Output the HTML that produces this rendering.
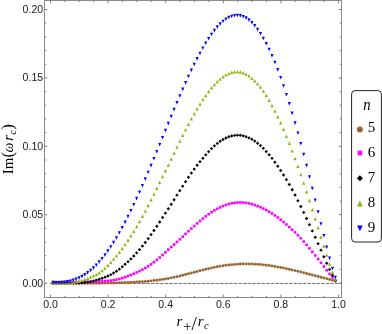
<!DOCTYPE html>
<html><head><meta charset="utf-8"><title>plot</title>
<style>
html,body{margin:0;padding:0;background:#fff;}
svg{display:block;will-change:transform;}
.t{font-family:"Liberation Sans",sans-serif;font-size:10px;fill:#1a1a1a;}
.s{font-family:"Liberation Serif",serif;font-size:15px;fill:#000;}
.i{font-style:italic;}
</style></head><body>
<svg width="382" height="334" viewBox="0 0 382 334">
<rect width="382" height="334" fill="#fff"/>
<rect x="44.5" y="0.5" width="297.0" height="297.0" stroke="#8a8a8a" stroke-width="1" fill="none"/>
<path d="M50.50 297.5v-2.8M50.50 0.5v2.8M64.90 297.5v-1.6M64.90 0.5v1.6M79.30 297.5v-1.6M79.30 0.5v1.6M93.70 297.5v-1.6M93.70 0.5v1.6M108.10 297.5v-2.8M108.10 0.5v2.8M122.50 297.5v-1.6M122.50 0.5v1.6M136.90 297.5v-1.6M136.90 0.5v1.6M151.30 297.5v-1.6M151.30 0.5v1.6M165.70 297.5v-2.8M165.70 0.5v2.8M180.10 297.5v-1.6M180.10 0.5v1.6M194.50 297.5v-1.6M194.50 0.5v1.6M208.90 297.5v-1.6M208.90 0.5v1.6M223.30 297.5v-2.8M223.30 0.5v2.8M237.70 297.5v-1.6M237.70 0.5v1.6M252.10 297.5v-1.6M252.10 0.5v1.6M266.50 297.5v-1.6M266.50 0.5v1.6M280.90 297.5v-2.8M280.90 0.5v2.8M295.30 297.5v-1.6M295.30 0.5v1.6M309.70 297.5v-1.6M309.70 0.5v1.6M324.10 297.5v-1.6M324.10 0.5v1.6M338.50 297.5v-2.8M338.50 0.5v2.8M44.5 283.10h2.8M341.5 283.10h-2.8M44.5 269.42h1.6M341.5 269.42h-1.6M44.5 255.74h1.6M341.5 255.74h-1.6M44.5 242.06h1.6M341.5 242.06h-1.6M44.5 228.38h1.6M341.5 228.38h-1.6M44.5 214.70h2.8M341.5 214.70h-2.8M44.5 201.02h1.6M341.5 201.02h-1.6M44.5 187.34h1.6M341.5 187.34h-1.6M44.5 173.66h1.6M341.5 173.66h-1.6M44.5 159.98h1.6M341.5 159.98h-1.6M44.5 146.30h2.8M341.5 146.30h-2.8M44.5 132.62h1.6M341.5 132.62h-1.6M44.5 118.94h1.6M341.5 118.94h-1.6M44.5 105.26h1.6M341.5 105.26h-1.6M44.5 91.58h1.6M341.5 91.58h-1.6M44.5 77.90h2.8M341.5 77.90h-2.8M44.5 64.22h1.6M341.5 64.22h-1.6M44.5 50.54h1.6M341.5 50.54h-1.6M44.5 36.86h1.6M341.5 36.86h-1.6M44.5 23.18h1.6M341.5 23.18h-1.6M44.5 9.50h2.8M341.5 9.50h-2.8" stroke="#707070" stroke-width="0.9" fill="none"/>
<path d="M49.9 283.45H341.5" stroke="#707070" stroke-width="1" stroke-dasharray="3.4 1.2" fill="none"/>
<text class="t" x="43.15" y="307.9" textLength="14.7" lengthAdjust="spacingAndGlyphs">0.0</text>
<text class="t" x="100.75" y="307.9" textLength="14.7" lengthAdjust="spacingAndGlyphs">0.2</text>
<text class="t" x="158.35" y="307.9" textLength="14.7" lengthAdjust="spacingAndGlyphs">0.4</text>
<text class="t" x="215.95" y="307.9" textLength="14.7" lengthAdjust="spacingAndGlyphs">0.6</text>
<text class="t" x="273.55" y="307.9" textLength="14.7" lengthAdjust="spacingAndGlyphs">0.8</text>
<text class="t" x="331.15" y="307.9" textLength="14.7" lengthAdjust="spacingAndGlyphs">1.0</text>
<text class="t" x="22.6" y="286.60" textLength="20.5" lengthAdjust="spacingAndGlyphs">0.00</text>
<text class="t" x="22.6" y="218.20" textLength="20.5" lengthAdjust="spacingAndGlyphs">0.05</text>
<text class="t" x="22.6" y="149.80" textLength="20.5" lengthAdjust="spacingAndGlyphs">0.10</text>
<text class="t" x="22.6" y="81.40" textLength="20.5" lengthAdjust="spacingAndGlyphs">0.15</text>
<text class="t" x="22.6" y="13.00" textLength="20.5" lengthAdjust="spacingAndGlyphs">0.20</text>
<g fill="#996633">
<circle cx="53.13" cy="283.21" r="1.48"/>
<circle cx="56.01" cy="283.19" r="1.48"/>
<circle cx="58.89" cy="283.18" r="1.48"/>
<circle cx="61.77" cy="283.18" r="1.48"/>
<circle cx="64.65" cy="283.18" r="1.48"/>
<circle cx="67.53" cy="283.18" r="1.48"/>
<circle cx="70.41" cy="283.18" r="1.48"/>
<circle cx="73.29" cy="283.18" r="1.48"/>
<circle cx="76.17" cy="283.19" r="1.48"/>
<circle cx="79.05" cy="283.19" r="1.48"/>
<circle cx="81.93" cy="283.20" r="1.48"/>
<circle cx="84.81" cy="283.20" r="1.48"/>
<circle cx="87.69" cy="283.20" r="1.48"/>
<circle cx="90.57" cy="283.19" r="1.48"/>
<circle cx="93.45" cy="283.19" r="1.48"/>
<circle cx="96.33" cy="283.17" r="1.48"/>
<circle cx="99.21" cy="283.15" r="1.48"/>
<circle cx="102.09" cy="283.13" r="1.48"/>
<circle cx="104.97" cy="283.09" r="1.48"/>
<circle cx="107.85" cy="283.05" r="1.48"/>
<circle cx="110.73" cy="283.00" r="1.48"/>
<circle cx="113.61" cy="282.94" r="1.48"/>
<circle cx="116.49" cy="282.87" r="1.48"/>
<circle cx="119.37" cy="282.79" r="1.48"/>
<circle cx="122.25" cy="282.70" r="1.48"/>
<circle cx="125.13" cy="282.59" r="1.48"/>
<circle cx="128.01" cy="282.47" r="1.48"/>
<circle cx="130.89" cy="282.34" r="1.48"/>
<circle cx="133.77" cy="282.19" r="1.48"/>
<circle cx="136.65" cy="282.03" r="1.48"/>
<circle cx="139.53" cy="281.84" r="1.48"/>
<circle cx="142.41" cy="281.64" r="1.48"/>
<circle cx="145.29" cy="281.40" r="1.48"/>
<circle cx="148.17" cy="281.15" r="1.48"/>
<circle cx="151.05" cy="280.86" r="1.48"/>
<circle cx="153.93" cy="280.55" r="1.48"/>
<circle cx="156.81" cy="280.20" r="1.48"/>
<circle cx="159.69" cy="279.81" r="1.48"/>
<circle cx="162.57" cy="279.39" r="1.48"/>
<circle cx="165.45" cy="278.93" r="1.48"/>
<circle cx="168.33" cy="278.42" r="1.48"/>
<circle cx="171.21" cy="277.87" r="1.48"/>
<circle cx="174.09" cy="277.28" r="1.48"/>
<circle cx="176.97" cy="276.65" r="1.48"/>
<circle cx="179.85" cy="275.98" r="1.48"/>
<circle cx="182.73" cy="275.28" r="1.48"/>
<circle cx="185.61" cy="274.56" r="1.48"/>
<circle cx="188.49" cy="273.82" r="1.48"/>
<circle cx="191.37" cy="273.07" r="1.48"/>
<circle cx="194.25" cy="272.31" r="1.48"/>
<circle cx="197.13" cy="271.56" r="1.48"/>
<circle cx="200.01" cy="270.81" r="1.48"/>
<circle cx="202.89" cy="270.07" r="1.48"/>
<circle cx="205.77" cy="269.35" r="1.48"/>
<circle cx="208.65" cy="268.66" r="1.48"/>
<circle cx="211.53" cy="267.99" r="1.48"/>
<circle cx="214.41" cy="267.36" r="1.48"/>
<circle cx="217.29" cy="266.78" r="1.48"/>
<circle cx="220.17" cy="266.24" r="1.48"/>
<circle cx="223.05" cy="265.75" r="1.48"/>
<circle cx="225.93" cy="265.32" r="1.48"/>
<circle cx="228.81" cy="264.95" r="1.48"/>
<circle cx="231.69" cy="264.64" r="1.48"/>
<circle cx="234.57" cy="264.38" r="1.48"/>
<circle cx="237.45" cy="264.18" r="1.48"/>
<circle cx="240.33" cy="264.04" r="1.48"/>
<circle cx="243.21" cy="263.95" r="1.48"/>
<circle cx="246.09" cy="263.92" r="1.48"/>
<circle cx="248.97" cy="263.95" r="1.48"/>
<circle cx="251.85" cy="264.03" r="1.48"/>
<circle cx="254.73" cy="264.16" r="1.48"/>
<circle cx="257.61" cy="264.35" r="1.48"/>
<circle cx="260.49" cy="264.59" r="1.48"/>
<circle cx="263.37" cy="264.87" r="1.48"/>
<circle cx="266.25" cy="265.21" r="1.48"/>
<circle cx="269.13" cy="265.59" r="1.48"/>
<circle cx="272.01" cy="266.01" r="1.48"/>
<circle cx="274.89" cy="266.47" r="1.48"/>
<circle cx="277.77" cy="266.97" r="1.48"/>
<circle cx="280.65" cy="267.51" r="1.48"/>
<circle cx="283.53" cy="268.08" r="1.48"/>
<circle cx="286.41" cy="268.67" r="1.48"/>
<circle cx="289.29" cy="269.30" r="1.48"/>
<circle cx="292.17" cy="269.95" r="1.48"/>
<circle cx="295.05" cy="270.62" r="1.48"/>
<circle cx="297.93" cy="271.32" r="1.48"/>
<circle cx="300.81" cy="272.03" r="1.48"/>
<circle cx="303.69" cy="272.75" r="1.48"/>
<circle cx="306.57" cy="273.49" r="1.48"/>
<circle cx="309.45" cy="274.25" r="1.48"/>
<circle cx="312.33" cy="275.00" r="1.48"/>
<circle cx="315.21" cy="275.77" r="1.48"/>
<circle cx="318.09" cy="276.54" r="1.48"/>
<circle cx="320.97" cy="277.30" r="1.48"/>
<circle cx="323.85" cy="278.07" r="1.48"/>
<circle cx="326.73" cy="278.83" r="1.48"/>
<circle cx="329.61" cy="279.59" r="1.48"/>
<circle cx="332.49" cy="280.33" r="1.48"/>
<circle cx="335.37" cy="281.07" r="1.48"/>
</g>
<g fill="#ff00ff">
<rect x="51.83" y="280.78" width="2.60" height="2.60"/>
<rect x="54.71" y="280.81" width="2.60" height="2.60"/>
<rect x="57.59" y="280.83" width="2.60" height="2.60"/>
<rect x="60.47" y="280.84" width="2.60" height="2.60"/>
<rect x="63.35" y="280.85" width="2.60" height="2.60"/>
<rect x="66.23" y="280.85" width="2.60" height="2.60"/>
<rect x="69.11" y="280.84" width="2.60" height="2.60"/>
<rect x="71.99" y="280.83" width="2.60" height="2.60"/>
<rect x="74.87" y="280.80" width="2.60" height="2.60"/>
<rect x="77.75" y="280.77" width="2.60" height="2.60"/>
<rect x="80.63" y="280.72" width="2.60" height="2.60"/>
<rect x="83.51" y="280.66" width="2.60" height="2.60"/>
<rect x="86.39" y="280.59" width="2.60" height="2.60"/>
<rect x="89.27" y="280.50" width="2.60" height="2.60"/>
<rect x="92.15" y="280.40" width="2.60" height="2.60"/>
<rect x="95.03" y="280.28" width="2.60" height="2.60"/>
<rect x="97.91" y="280.15" width="2.60" height="2.60"/>
<rect x="100.79" y="280.00" width="2.60" height="2.60"/>
<rect x="103.67" y="279.82" width="2.60" height="2.60"/>
<rect x="106.55" y="279.60" width="2.60" height="2.60"/>
<rect x="109.43" y="279.31" width="2.60" height="2.60"/>
<rect x="112.31" y="278.90" width="2.60" height="2.60"/>
<rect x="115.19" y="278.36" width="2.60" height="2.60"/>
<rect x="118.07" y="277.67" width="2.60" height="2.60"/>
<rect x="120.95" y="276.82" width="2.60" height="2.60"/>
<rect x="123.83" y="275.86" width="2.60" height="2.60"/>
<rect x="126.71" y="274.79" width="2.60" height="2.60"/>
<rect x="129.59" y="273.63" width="2.60" height="2.60"/>
<rect x="132.47" y="272.41" width="2.60" height="2.60"/>
<rect x="135.35" y="271.13" width="2.60" height="2.60"/>
<rect x="138.23" y="269.78" width="2.60" height="2.60"/>
<rect x="141.11" y="268.33" width="2.60" height="2.60"/>
<rect x="143.99" y="266.73" width="2.60" height="2.60"/>
<rect x="146.87" y="264.98" width="2.60" height="2.60"/>
<rect x="149.75" y="263.03" width="2.60" height="2.60"/>
<rect x="152.63" y="260.90" width="2.60" height="2.60"/>
<rect x="155.51" y="258.62" width="2.60" height="2.60"/>
<rect x="158.39" y="256.20" width="2.60" height="2.60"/>
<rect x="161.27" y="253.66" width="2.60" height="2.60"/>
<rect x="164.15" y="251.03" width="2.60" height="2.60"/>
<rect x="167.03" y="248.34" width="2.60" height="2.60"/>
<rect x="169.91" y="245.74" width="2.60" height="2.60"/>
<rect x="172.79" y="243.29" width="2.60" height="2.60"/>
<rect x="175.67" y="240.73" width="2.60" height="2.60"/>
<rect x="178.55" y="238.05" width="2.60" height="2.60"/>
<rect x="181.43" y="235.35" width="2.60" height="2.60"/>
<rect x="184.31" y="232.64" width="2.60" height="2.60"/>
<rect x="187.19" y="229.95" width="2.60" height="2.60"/>
<rect x="190.07" y="227.29" width="2.60" height="2.60"/>
<rect x="192.95" y="224.68" width="2.60" height="2.60"/>
<rect x="195.83" y="222.13" width="2.60" height="2.60"/>
<rect x="198.71" y="219.66" width="2.60" height="2.60"/>
<rect x="201.59" y="217.29" width="2.60" height="2.60"/>
<rect x="204.47" y="215.04" width="2.60" height="2.60"/>
<rect x="207.35" y="212.91" width="2.60" height="2.60"/>
<rect x="210.23" y="210.94" width="2.60" height="2.60"/>
<rect x="213.11" y="209.13" width="2.60" height="2.60"/>
<rect x="215.99" y="207.48" width="2.60" height="2.60"/>
<rect x="218.87" y="206.02" width="2.60" height="2.60"/>
<rect x="221.75" y="204.74" width="2.60" height="2.60"/>
<rect x="224.63" y="203.64" width="2.60" height="2.60"/>
<rect x="227.51" y="202.74" width="2.60" height="2.60"/>
<rect x="230.39" y="202.04" width="2.60" height="2.60"/>
<rect x="233.27" y="201.54" width="2.60" height="2.60"/>
<rect x="236.15" y="201.24" width="2.60" height="2.60"/>
<rect x="239.03" y="201.16" width="2.60" height="2.60"/>
<rect x="241.91" y="201.28" width="2.60" height="2.60"/>
<rect x="244.79" y="201.61" width="2.60" height="2.60"/>
<rect x="247.67" y="202.13" width="2.60" height="2.60"/>
<rect x="250.55" y="202.85" width="2.60" height="2.60"/>
<rect x="253.43" y="203.73" width="2.60" height="2.60"/>
<rect x="256.31" y="204.78" width="2.60" height="2.60"/>
<rect x="259.19" y="205.97" width="2.60" height="2.60"/>
<rect x="262.07" y="207.29" width="2.60" height="2.60"/>
<rect x="264.95" y="208.76" width="2.60" height="2.60"/>
<rect x="267.83" y="210.37" width="2.60" height="2.60"/>
<rect x="270.71" y="212.14" width="2.60" height="2.60"/>
<rect x="273.59" y="214.06" width="2.60" height="2.60"/>
<rect x="276.47" y="216.15" width="2.60" height="2.60"/>
<rect x="279.35" y="218.38" width="2.60" height="2.60"/>
<rect x="282.23" y="220.74" width="2.60" height="2.60"/>
<rect x="285.11" y="223.21" width="2.60" height="2.60"/>
<rect x="287.99" y="225.76" width="2.60" height="2.60"/>
<rect x="290.87" y="228.37" width="2.60" height="2.60"/>
<rect x="293.75" y="231.05" width="2.60" height="2.60"/>
<rect x="296.63" y="233.88" width="2.60" height="2.60"/>
<rect x="299.51" y="236.95" width="2.60" height="2.60"/>
<rect x="302.39" y="240.23" width="2.60" height="2.60"/>
<rect x="305.27" y="243.63" width="2.60" height="2.60"/>
<rect x="308.15" y="247.08" width="2.60" height="2.60"/>
<rect x="311.03" y="250.58" width="2.60" height="2.60"/>
<rect x="313.91" y="254.14" width="2.60" height="2.60"/>
<rect x="316.79" y="257.76" width="2.60" height="2.60"/>
<rect x="319.67" y="261.45" width="2.60" height="2.60"/>
<rect x="322.55" y="265.22" width="2.60" height="2.60"/>
<rect x="325.43" y="268.99" width="2.60" height="2.60"/>
<rect x="328.31" y="272.66" width="2.60" height="2.60"/>
<rect x="331.19" y="276.15" width="2.60" height="2.60"/>
<rect x="334.07" y="279.35" width="2.60" height="2.60"/>
</g>
<g fill="#000000">
<path d="M53.13 281.32L54.83 283.02L53.13 284.72L51.43 283.02Z"/>
<path d="M56.01 281.21L57.71 282.91L56.01 284.61L54.31 282.91Z"/>
<path d="M58.89 281.18L60.59 282.88L58.89 284.58L57.19 282.88Z"/>
<path d="M61.77 281.20L63.47 282.90L61.77 284.60L60.07 282.90Z"/>
<path d="M64.65 281.25L66.35 282.95L64.65 284.65L62.95 282.95Z"/>
<path d="M67.53 281.31L69.23 283.01L67.53 284.71L65.83 283.01Z"/>
<path d="M70.41 281.37L72.11 283.07L70.41 284.77L68.71 283.07Z"/>
<path d="M73.29 281.40L74.99 283.10L73.29 284.80L71.59 283.10Z"/>
<path d="M76.17 281.38L77.87 283.08L76.17 284.78L74.47 283.08Z"/>
<path d="M79.05 281.30L80.75 283.00L79.05 284.70L77.35 283.00Z"/>
<path d="M81.93 281.13L83.63 282.83L81.93 284.53L80.23 282.83Z"/>
<path d="M84.81 280.85L86.51 282.55L84.81 284.25L83.11 282.55Z"/>
<path d="M87.69 280.45L89.39 282.15L87.69 283.85L85.99 282.15Z"/>
<path d="M90.57 279.91L92.27 281.61L90.57 283.31L88.87 281.61Z"/>
<path d="M93.45 279.21L95.15 280.91L93.45 282.61L91.75 280.91Z"/>
<path d="M96.33 278.39L98.03 280.09L96.33 281.79L94.63 280.09Z"/>
<path d="M99.21 277.48L100.91 279.18L99.21 280.88L97.51 279.18Z"/>
<path d="M102.09 276.52L103.79 278.22L102.09 279.92L100.39 278.22Z"/>
<path d="M104.97 275.47L106.67 277.17L104.97 278.87L103.27 277.17Z"/>
<path d="M107.85 274.29L109.55 275.99L107.85 277.69L106.15 275.99Z"/>
<path d="M110.73 272.93L112.43 274.63L110.73 276.33L109.03 274.63Z"/>
<path d="M113.61 271.35L115.31 273.05L113.61 274.75L111.91 273.05Z"/>
<path d="M116.49 269.53L118.19 271.23L116.49 272.93L114.79 271.23Z"/>
<path d="M119.37 267.44L121.07 269.14L119.37 270.84L117.67 269.14Z"/>
<path d="M122.25 265.12L123.95 266.82L122.25 268.52L120.55 266.82Z"/>
<path d="M125.13 262.62L126.83 264.32L125.13 266.02L123.43 264.32Z"/>
<path d="M128.01 259.97L129.71 261.67L128.01 263.37L126.31 261.67Z"/>
<path d="M130.89 257.18L132.59 258.88L130.89 260.58L129.19 258.88Z"/>
<path d="M133.77 254.24L135.47 255.94L133.77 257.64L132.07 255.94Z"/>
<path d="M136.65 251.15L138.35 252.85L136.65 254.55L134.95 252.85Z"/>
<path d="M139.53 247.88L141.23 249.58L139.53 251.28L137.83 249.58Z"/>
<path d="M142.41 244.40L144.11 246.10L142.41 247.80L140.71 246.10Z"/>
<path d="M145.29 240.73L146.99 242.43L145.29 244.13L143.59 242.43Z"/>
<path d="M148.17 236.88L149.87 238.58L148.17 240.28L146.47 238.58Z"/>
<path d="M151.05 232.89L152.75 234.59L151.05 236.29L149.35 234.59Z"/>
<path d="M153.93 228.77L155.63 230.47L153.93 232.17L152.23 230.47Z"/>
<path d="M156.81 224.55L158.51 226.25L156.81 227.95L155.11 226.25Z"/>
<path d="M159.69 220.25L161.39 221.95L159.69 223.65L157.99 221.95Z"/>
<path d="M162.57 215.87L164.27 217.57L162.57 219.27L160.87 217.57Z"/>
<path d="M165.45 211.45L167.15 213.15L165.45 214.85L163.75 213.15Z"/>
<path d="M168.33 206.99L170.03 208.69L168.33 210.39L166.63 208.69Z"/>
<path d="M171.21 202.50L172.91 204.20L171.21 205.90L169.51 204.20Z"/>
<path d="M174.09 197.99L175.79 199.69L174.09 201.39L172.39 199.69Z"/>
<path d="M176.97 193.46L178.67 195.16L176.97 196.86L175.27 195.16Z"/>
<path d="M179.85 188.93L181.55 190.63L179.85 192.33L178.15 190.63Z"/>
<path d="M182.73 184.43L184.43 186.13L182.73 187.83L181.03 186.13Z"/>
<path d="M185.61 179.97L187.31 181.67L185.61 183.37L183.91 181.67Z"/>
<path d="M188.49 175.61L190.19 177.31L188.49 179.01L186.79 177.31Z"/>
<path d="M191.37 171.40L193.07 173.10L191.37 174.80L189.67 173.10Z"/>
<path d="M194.25 167.40L195.95 169.10L194.25 170.80L192.55 169.10Z"/>
<path d="M197.13 163.60L198.83 165.30L197.13 167.00L195.43 165.30Z"/>
<path d="M200.01 159.97L201.71 161.67L200.01 163.37L198.31 161.67Z"/>
<path d="M202.89 156.50L204.59 158.20L202.89 159.90L201.19 158.20Z"/>
<path d="M205.77 153.16L207.47 154.86L205.77 156.56L204.07 154.86Z"/>
<path d="M208.65 149.94L210.35 151.64L208.65 153.34L206.95 151.64Z"/>
<path d="M211.53 146.92L213.23 148.62L211.53 150.32L209.83 148.62Z"/>
<path d="M214.41 144.14L216.11 145.84L214.41 147.54L212.71 145.84Z"/>
<path d="M217.29 141.69L218.99 143.39L217.29 145.09L215.59 143.39Z"/>
<path d="M220.17 139.56L221.87 141.26L220.17 142.96L218.47 141.26Z"/>
<path d="M223.05 137.76L224.75 139.46L223.05 141.16L221.35 139.46Z"/>
<path d="M225.93 136.28L227.63 137.98L225.93 139.68L224.23 137.98Z"/>
<path d="M228.81 135.12L230.51 136.82L228.81 138.52L227.11 136.82Z"/>
<path d="M231.69 134.26L233.39 135.96L231.69 137.66L229.99 135.96Z"/>
<path d="M234.57 133.69L236.27 135.39L234.57 137.09L232.87 135.39Z"/>
<path d="M237.45 133.47L239.15 135.17L237.45 136.87L235.75 135.17Z"/>
<path d="M240.33 133.62L242.03 135.32L240.33 137.02L238.63 135.32Z"/>
<path d="M243.21 134.15L244.91 135.85L243.21 137.55L241.51 135.85Z"/>
<path d="M246.09 135.03L247.79 136.73L246.09 138.43L244.39 136.73Z"/>
<path d="M248.97 136.21L250.67 137.91L248.97 139.61L247.27 137.91Z"/>
<path d="M251.85 137.67L253.55 139.37L251.85 141.07L250.15 139.37Z"/>
<path d="M254.73 139.41L256.43 141.11L254.73 142.81L253.03 141.11Z"/>
<path d="M257.61 141.48L259.31 143.18L257.61 144.88L255.91 143.18Z"/>
<path d="M260.49 143.91L262.19 145.61L260.49 147.31L258.79 145.61Z"/>
<path d="M263.37 146.67L265.07 148.37L263.37 150.07L261.67 148.37Z"/>
<path d="M266.25 149.73L267.95 151.43L266.25 153.13L264.55 151.43Z"/>
<path d="M269.13 153.07L270.83 154.77L269.13 156.47L267.43 154.77Z"/>
<path d="M272.01 156.66L273.71 158.36L272.01 160.06L270.31 158.36Z"/>
<path d="M274.89 160.48L276.59 162.18L274.89 163.88L273.19 162.18Z"/>
<path d="M277.77 164.52L279.47 166.22L277.77 167.92L276.07 166.22Z"/>
<path d="M280.65 168.77L282.35 170.47L280.65 172.17L278.95 170.47Z"/>
<path d="M283.53 173.25L285.23 174.95L283.53 176.65L281.83 174.95Z"/>
<path d="M286.41 177.95L288.11 179.65L286.41 181.35L284.71 179.65Z"/>
<path d="M289.29 182.86L290.99 184.56L289.29 186.26L287.59 184.56Z"/>
<path d="M292.17 188.00L293.87 189.70L292.17 191.40L290.47 189.70Z"/>
<path d="M295.05 193.35L296.75 195.05L295.05 196.75L293.35 195.05Z"/>
<path d="M297.93 198.93L299.63 200.63L297.93 202.33L296.23 200.63Z"/>
<path d="M300.81 204.73L302.51 206.43L300.81 208.13L299.11 206.43Z"/>
<path d="M303.69 210.68L305.39 212.38L303.69 214.08L301.99 212.38Z"/>
<path d="M306.57 216.76L308.27 218.46L306.57 220.16L304.87 218.46Z"/>
<path d="M309.45 222.93L311.15 224.63L309.45 226.33L307.75 224.63Z"/>
<path d="M312.33 229.19L314.03 230.89L312.33 232.59L310.63 230.89Z"/>
<path d="M315.21 235.54L316.91 237.24L315.21 238.94L313.51 237.24Z"/>
<path d="M318.09 241.97L319.79 243.67L318.09 245.37L316.39 243.67Z"/>
<path d="M320.97 248.47L322.67 250.17L320.97 251.87L319.27 250.17Z"/>
<path d="M323.85 255.01L325.55 256.71L323.85 258.41L322.15 256.71Z"/>
<path d="M326.73 261.48L328.43 263.18L326.73 264.88L325.03 263.18Z"/>
<path d="M329.61 267.73L331.31 269.43L329.61 271.13L327.91 269.43Z"/>
<path d="M332.49 273.62L334.19 275.32L332.49 277.02L330.79 275.32Z"/>
<path d="M335.37 279.03L337.07 280.73L335.37 282.43L333.67 280.73Z"/>
</g>
<g fill="#84b80a">
<path d="M53.13 281.24L54.73 284.74L51.53 284.74Z"/>
<path d="M56.01 281.24L57.61 284.74L54.41 284.74Z"/>
<path d="M58.89 281.27L60.49 284.77L57.29 284.77Z"/>
<path d="M61.77 281.28L63.37 284.78L60.17 284.78Z"/>
<path d="M64.65 281.25L66.25 284.75L63.05 284.75Z"/>
<path d="M67.53 281.15L69.13 284.65L65.93 284.65Z"/>
<path d="M70.41 280.94L72.01 284.44L68.81 284.44Z"/>
<path d="M73.29 280.59L74.89 284.09L71.69 284.09Z"/>
<path d="M76.17 280.06L77.77 283.56L74.57 283.56Z"/>
<path d="M79.05 279.38L80.65 282.88L77.45 282.88Z"/>
<path d="M81.93 278.55L83.53 282.05L80.33 282.05Z"/>
<path d="M84.81 277.60L86.41 281.10L83.21 281.10Z"/>
<path d="M87.69 276.53L89.29 280.03L86.09 280.03Z"/>
<path d="M90.57 275.37L92.17 278.87L88.97 278.87Z"/>
<path d="M93.45 274.11L95.05 277.61L91.85 277.61Z"/>
<path d="M96.33 272.66L97.93 276.16L94.73 276.16Z"/>
<path d="M99.21 270.88L100.81 274.38L97.61 274.38Z"/>
<path d="M102.09 268.70L103.69 272.20L100.49 272.20Z"/>
<path d="M104.97 266.18L106.57 269.68L103.37 269.68Z"/>
<path d="M107.85 263.41L109.45 266.91L106.25 266.91Z"/>
<path d="M110.73 260.47L112.33 263.97L109.13 263.97Z"/>
<path d="M113.61 257.35L115.21 260.85L112.01 260.85Z"/>
<path d="M116.49 253.99L118.09 257.49L114.89 257.49Z"/>
<path d="M119.37 250.39L120.97 253.89L117.77 253.89Z"/>
<path d="M122.25 246.64L123.85 250.14L120.65 250.14Z"/>
<path d="M125.13 242.65L126.73 246.15L123.53 246.15Z"/>
<path d="M128.01 238.46L129.61 241.96L126.41 241.96Z"/>
<path d="M130.89 234.06L132.49 237.56L129.29 237.56Z"/>
<path d="M133.77 229.46L135.37 232.96L132.17 232.96Z"/>
<path d="M136.65 224.67L138.25 228.17L135.05 228.17Z"/>
<path d="M139.53 219.69L141.13 223.19L137.93 223.19Z"/>
<path d="M142.41 214.52L144.01 218.02L140.81 218.02Z"/>
<path d="M145.29 209.18L146.89 212.68L143.69 212.68Z"/>
<path d="M148.17 203.68L149.77 207.18L146.57 207.18Z"/>
<path d="M151.05 198.05L152.65 201.55L149.45 201.55Z"/>
<path d="M153.93 192.32L155.53 195.82L152.33 195.82Z"/>
<path d="M156.81 186.52L158.41 190.02L155.21 190.02Z"/>
<path d="M159.69 180.67L161.29 184.17L158.09 184.17Z"/>
<path d="M162.57 174.80L164.17 178.30L160.97 178.30Z"/>
<path d="M165.45 168.95L167.05 172.45L163.85 172.45Z"/>
<path d="M168.33 163.13L169.93 166.63L166.73 166.63Z"/>
<path d="M171.21 157.21L172.81 160.71L169.61 160.71Z"/>
<path d="M174.09 151.23L175.69 154.73L172.49 154.73Z"/>
<path d="M176.97 145.26L178.57 148.76L175.37 148.76Z"/>
<path d="M179.85 139.37L181.45 142.87L178.25 142.87Z"/>
<path d="M182.73 133.59L184.33 137.09L181.13 137.09Z"/>
<path d="M185.61 127.93L187.21 131.43L184.01 131.43Z"/>
<path d="M188.49 122.43L190.09 125.93L186.89 125.93Z"/>
<path d="M191.37 117.09L192.97 120.59L189.77 120.59Z"/>
<path d="M194.25 111.94L195.85 115.44L192.65 115.44Z"/>
<path d="M197.13 107.01L198.73 110.51L195.53 110.51Z"/>
<path d="M200.01 102.30L201.61 105.80L198.41 105.80Z"/>
<path d="M202.89 97.84L204.49 101.34L201.29 101.34Z"/>
<path d="M205.77 93.64L207.37 97.14L204.17 97.14Z"/>
<path d="M208.65 89.72L210.25 93.22L207.05 93.22Z"/>
<path d="M211.53 86.10L213.13 89.60L209.93 89.60Z"/>
<path d="M214.41 82.80L216.01 86.30L212.81 86.30Z"/>
<path d="M217.29 79.84L218.89 83.34L215.69 83.34Z"/>
<path d="M220.17 77.22L221.77 80.72L218.57 80.72Z"/>
<path d="M223.05 74.97L224.65 78.47L221.45 78.47Z"/>
<path d="M225.93 73.11L227.53 76.61L224.33 76.61Z"/>
<path d="M228.81 71.65L230.41 75.15L227.21 75.15Z"/>
<path d="M231.69 70.61L233.29 74.11L230.09 74.11Z"/>
<path d="M234.57 70.00L236.17 73.50L232.97 73.50Z"/>
<path d="M237.45 69.84L239.05 73.34L235.85 73.34Z"/>
<path d="M240.33 70.16L241.93 73.66L238.73 73.66Z"/>
<path d="M243.21 70.96L244.81 74.46L241.61 74.46Z"/>
<path d="M246.09 72.26L247.69 75.76L244.49 75.76Z"/>
<path d="M248.97 74.08L250.57 77.58L247.37 77.58Z"/>
<path d="M251.85 76.41L253.45 79.91L250.25 79.91Z"/>
<path d="M254.73 79.07L256.33 82.57L253.13 82.57Z"/>
<path d="M257.61 81.98L259.21 85.48L256.01 85.48Z"/>
<path d="M260.49 85.33L262.09 88.83L258.89 88.83Z"/>
<path d="M263.37 89.18L264.97 92.68L261.77 92.68Z"/>
<path d="M266.25 93.56L267.85 97.06L264.65 97.06Z"/>
<path d="M269.13 98.44L270.73 101.94L267.53 101.94Z"/>
<path d="M272.01 103.71L273.61 107.21L270.41 107.21Z"/>
<path d="M274.89 109.23L276.49 112.73L273.29 112.73Z"/>
<path d="M277.77 114.94L279.37 118.44L276.17 118.44Z"/>
<path d="M280.65 121.00L282.25 124.50L279.05 124.50Z"/>
<path d="M283.53 127.54L285.13 131.04L281.93 131.04Z"/>
<path d="M286.41 134.43L288.01 137.93L284.81 137.93Z"/>
<path d="M289.29 141.61L290.89 145.11L287.69 145.11Z"/>
<path d="M292.17 149.03L293.77 152.53L290.57 152.53Z"/>
<path d="M295.05 156.67L296.65 160.17L293.45 160.17Z"/>
<path d="M297.93 164.55L299.53 168.05L296.33 168.05Z"/>
<path d="M300.81 172.71L302.41 176.21L299.21 176.21Z"/>
<path d="M303.69 181.18L305.29 184.68L302.09 184.68Z"/>
<path d="M306.57 189.91L308.17 193.41L304.97 193.41Z"/>
<path d="M309.45 198.83L311.05 202.33L307.85 202.33Z"/>
<path d="M312.33 207.88L313.93 211.38L310.73 211.38Z"/>
<path d="M315.21 217.00L316.81 220.50L313.61 220.50Z"/>
<path d="M318.09 226.12L319.69 229.62L316.49 229.62Z"/>
<path d="M320.97 235.20L322.57 238.70L319.37 238.70Z"/>
<path d="M323.85 244.28L325.45 247.78L322.25 247.78Z"/>
<path d="M326.73 253.37L328.33 256.87L325.13 256.87Z"/>
<path d="M329.61 262.27L331.21 265.77L328.01 265.77Z"/>
<path d="M332.49 270.61L334.09 274.11L330.89 274.11Z"/>
<path d="M335.37 277.96L336.97 281.46L333.77 281.46Z"/>
</g>
<g fill="#0000ff">
<path d="M53.13 284.42L54.68 280.82L51.58 280.82Z"/>
<path d="M56.01 284.55L57.56 280.95L54.46 280.95Z"/>
<path d="M58.89 284.56L60.44 280.96L57.34 280.96Z"/>
<path d="M61.77 284.42L63.32 280.82L60.22 280.82Z"/>
<path d="M64.65 284.12L66.20 280.52L63.10 280.52Z"/>
<path d="M67.53 283.66L69.08 280.06L65.98 280.06Z"/>
<path d="M70.41 283.02L71.96 279.42L68.86 279.42Z"/>
<path d="M73.29 282.18L74.84 278.58L71.74 278.58Z"/>
<path d="M76.17 281.14L77.72 277.54L74.62 277.54Z"/>
<path d="M79.05 279.88L80.60 276.28L77.50 276.28Z"/>
<path d="M81.93 278.39L83.48 274.79L80.38 274.79Z"/>
<path d="M84.81 276.66L86.36 273.06L83.26 273.06Z"/>
<path d="M87.69 274.68L89.24 271.08L86.14 271.08Z"/>
<path d="M90.57 272.43L92.12 268.83L89.02 268.83Z"/>
<path d="M93.45 269.90L95.00 266.30L91.90 266.30Z"/>
<path d="M96.33 267.08L97.88 263.48L94.78 263.48Z"/>
<path d="M99.21 263.97L100.76 260.37L97.66 260.37Z"/>
<path d="M102.09 260.56L103.64 256.96L100.54 256.96Z"/>
<path d="M104.97 256.88L106.52 253.28L103.42 253.28Z"/>
<path d="M107.85 252.95L109.40 249.35L106.30 249.35Z"/>
<path d="M110.73 248.81L112.28 245.21L109.18 245.21Z"/>
<path d="M113.61 244.42L115.16 240.82L112.06 240.82Z"/>
<path d="M116.49 239.76L118.04 236.16L114.94 236.16Z"/>
<path d="M119.37 234.81L120.92 231.21L117.82 231.21Z"/>
<path d="M122.25 229.58L123.80 225.98L120.70 225.98Z"/>
<path d="M125.13 224.13L126.68 220.53L123.58 220.53Z"/>
<path d="M128.01 218.47L129.56 214.87L126.46 214.87Z"/>
<path d="M130.89 212.62L132.44 209.02L129.34 209.02Z"/>
<path d="M133.77 206.59L135.32 202.99L132.22 202.99Z"/>
<path d="M136.65 200.40L138.20 196.80L135.10 196.80Z"/>
<path d="M139.53 194.06L141.08 190.46L137.98 190.46Z"/>
<path d="M142.41 187.58L143.96 183.98L140.86 183.98Z"/>
<path d="M145.29 180.97L146.84 177.37L143.74 177.37Z"/>
<path d="M148.17 174.25L149.72 170.65L146.62 170.65Z"/>
<path d="M151.05 167.43L152.60 163.83L149.50 163.83Z"/>
<path d="M153.93 160.53L155.48 156.93L152.38 156.93Z"/>
<path d="M156.81 153.57L158.36 149.97L155.26 149.97Z"/>
<path d="M159.69 146.55L161.24 142.95L158.14 142.95Z"/>
<path d="M162.57 139.51L164.12 135.91L161.02 135.91Z"/>
<path d="M165.45 132.44L167.00 128.84L163.90 128.84Z"/>
<path d="M168.33 125.40L169.88 121.80L166.78 121.80Z"/>
<path d="M171.21 118.38L172.76 114.78L169.66 114.78Z"/>
<path d="M174.09 111.42L175.64 107.82L172.54 107.82Z"/>
<path d="M176.97 104.55L178.52 100.95L175.42 100.95Z"/>
<path d="M179.85 97.78L181.40 94.18L178.30 94.18Z"/>
<path d="M182.73 91.13L184.28 87.53L181.18 87.53Z"/>
<path d="M185.61 84.64L187.16 81.04L184.06 81.04Z"/>
<path d="M188.49 78.32L190.04 74.72L186.94 74.72Z"/>
<path d="M191.37 72.20L192.92 68.60L189.82 68.60Z"/>
<path d="M194.25 66.30L195.80 62.70L192.70 62.70Z"/>
<path d="M197.13 60.64L198.68 57.04L195.58 57.04Z"/>
<path d="M200.01 55.23L201.56 51.63L198.46 51.63Z"/>
<path d="M202.89 50.08L204.44 46.48L201.34 46.48Z"/>
<path d="M205.77 45.19L207.32 41.59L204.22 41.59Z"/>
<path d="M208.65 40.58L210.20 36.98L207.10 36.98Z"/>
<path d="M211.53 36.29L213.08 32.69L209.98 32.69Z"/>
<path d="M214.41 32.38L215.96 28.78L212.86 28.78Z"/>
<path d="M217.29 28.89L218.84 25.29L215.74 25.29Z"/>
<path d="M220.17 25.85L221.72 22.25L218.62 22.25Z"/>
<path d="M223.05 23.25L224.60 19.65L221.50 19.65Z"/>
<path d="M225.93 21.11L227.48 17.51L224.38 17.51Z"/>
<path d="M228.81 19.44L230.36 15.84L227.26 15.84Z"/>
<path d="M231.69 18.25L233.24 14.65L230.14 14.65Z"/>
<path d="M234.57 17.55L236.12 13.95L233.02 13.95Z"/>
<path d="M237.45 17.36L239.00 13.76L235.90 13.76Z"/>
<path d="M240.33 17.68L241.88 14.08L238.78 14.08Z"/>
<path d="M243.21 18.55L244.76 14.95L241.66 14.95Z"/>
<path d="M246.09 19.97L247.64 16.37L244.54 16.37Z"/>
<path d="M248.97 21.96L250.52 18.36L247.42 18.36Z"/>
<path d="M251.85 24.54L253.40 20.94L250.30 20.94Z"/>
<path d="M254.73 27.68L256.28 24.08L253.18 24.08Z"/>
<path d="M257.61 31.38L259.16 27.78L256.06 27.78Z"/>
<path d="M260.49 35.60L262.04 32.00L258.94 32.00Z"/>
<path d="M263.37 40.34L264.92 36.74L261.82 36.74Z"/>
<path d="M266.25 45.57L267.80 41.97L264.70 41.97Z"/>
<path d="M269.13 51.29L270.68 47.69L267.58 47.69Z"/>
<path d="M272.01 57.51L273.56 53.91L270.46 53.91Z"/>
<path d="M274.89 64.30L276.44 60.70L273.34 60.70Z"/>
<path d="M277.77 71.66L279.32 68.06L276.22 68.06Z"/>
<path d="M280.65 79.54L282.20 75.94L279.10 75.94Z"/>
<path d="M283.53 87.87L285.08 84.27L281.98 84.27Z"/>
<path d="M286.41 96.59L287.96 92.99L284.86 92.99Z"/>
<path d="M289.29 105.68L290.84 102.08L287.74 102.08Z"/>
<path d="M292.17 115.13L293.72 111.53L290.62 111.53Z"/>
<path d="M295.05 124.93L296.60 121.33L293.50 121.33Z"/>
<path d="M297.93 135.07L299.48 131.47L296.38 131.47Z"/>
<path d="M300.81 145.55L302.36 141.95L299.26 141.95Z"/>
<path d="M303.69 156.36L305.24 152.76L302.14 152.76Z"/>
<path d="M306.57 167.45L308.12 163.85L305.02 163.85Z"/>
<path d="M309.45 178.79L311.00 175.19L307.90 175.19Z"/>
<path d="M312.33 190.33L313.88 186.73L310.78 186.73Z"/>
<path d="M315.21 202.03L316.76 198.43L313.66 198.43Z"/>
<path d="M318.09 213.86L319.64 210.26L316.54 210.26Z"/>
<path d="M320.97 225.74L322.52 222.14L319.42 222.14Z"/>
<path d="M323.85 237.53L325.40 233.93L322.30 233.93Z"/>
<path d="M326.73 249.05L328.28 245.45L325.18 245.45Z"/>
<path d="M329.61 260.10L331.16 256.50L328.06 256.50Z"/>
<path d="M332.49 270.34L334.04 266.74L330.94 266.74Z"/>
<path d="M335.37 279.36L336.92 275.76L333.82 275.76Z"/>
</g>
<g transform="translate(13.2 174.4) rotate(-90)">
<text class="s" transform="translate(0.2 0) scale(1 1.0)" style="font-size:15px">I</text>
<text class="s" transform="translate(5.2 0) scale(1 1.0)" style="font-size:15px">m</text>
<text class="s" transform="translate(17.0 -0.2) scale(1 1.0)" style="font-size:17px">(</text>
<text class="s i" transform="translate(21.9 0) scale(1 1.0)" style="font-size:14px">ω</text>
<text class="s i" transform="translate(33.6 0) scale(1 1.0)" style="font-size:15px">r</text>
<text class="s i" transform="translate(39.6 2.4) scale(1 1.0)" style="font-size:10.5px">c</text>
<text class="s" transform="translate(44.6 -0.2) scale(1 1.0)" style="font-size:17px">)</text>
</g>
<text class="s i" x="176.6" y="326.4" style="font-size:15px">r</text>
<text class="s" x="183.2" y="331.2" style="font-size:14px">+</text>
<text class="s" x="191.4" y="329.6" style="font-size:19px">/</text>
<text class="s i" x="197.8" y="326.4" style="font-size:15px">r</text>
<text class="s i" x="204.0" y="328.8" style="font-size:10.5px">c</text>
<rect x="351.6" y="90.6" width="29.8" height="151.4" rx="3.5" ry="3.5" fill="#fff" stroke="#222" stroke-width="1"/>
<text class="s i" x="363.2" y="109.9" style="font-size:16px" textLength="7.4" lengthAdjust="spacingAndGlyphs">n</text>
<g fill="#996633"><circle cx="359.90" cy="129.60" r="3.00"/></g>
<text class="s" x="371.4" y="132.2" text-anchor="middle">5</text>
<g fill="#ff00ff"><rect x="357.60" y="150.70" width="4.60" height="4.60"/></g>
<text class="s" x="371.4" y="157.0" text-anchor="middle">6</text>
<g fill="#000000"><path d="M359.90 175.20L362.90 178.20L359.90 181.20L356.90 178.20Z"/></g>
<text class="s" x="371.4" y="181.7" text-anchor="middle">7</text>
<g fill="#84b80a"><path d="M359.90 200.60L362.70 206.40L357.10 206.40Z"/></g>
<text class="s" x="371.4" y="206.8" text-anchor="middle">8</text>
<g fill="#0000ff"><path d="M359.90 231.20L362.70 225.40L357.10 225.40Z"/></g>
<text class="s" x="371.4" y="231.8" text-anchor="middle">9</text>
</svg></body></html>
